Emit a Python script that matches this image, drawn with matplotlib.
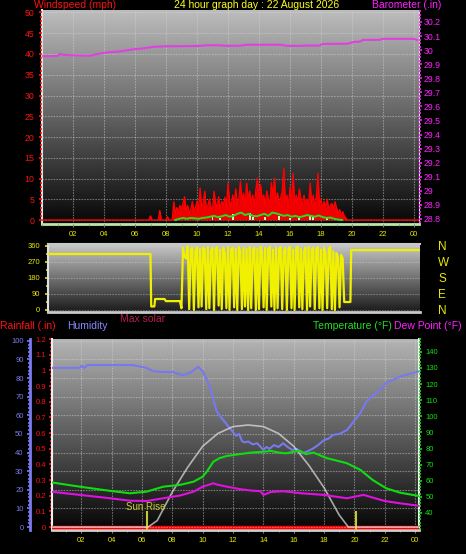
import numpy as np
import matplotlib.pyplot as plt
from matplotlib.colors import LinearSegmentedColormap
from matplotlib.ticker import MultipleLocator

plt.rcParams['font.family'] = ['Liberation Sans', 'DejaVu Sans']

# ---------------- data ----------------
title = "24 hour graph day : 22 August 2026"
hour_ticks = list(range(2, 25, 2))
hour_labels = ["%02d" % (h % 24) for h in hour_ticks]

# barometer (inHg)
baro_hours = [0.0, 1.0, 1.15, 1.4, 2.1, 3.1, 3.5, 4.2, 5.0, 5.9, 6.5, 7.2, 8.0, 9.3, 10.2,
              10.6, 11.5, 11.9, 12.8, 13.2, 15.4, 15.8, 16.6, 17.1, 17.9, 18.1, 19.7, 20.1,
              20.5, 20.7, 21.8, 22.0, 24.0, 24.2]
baro_vals = [29.957, 29.958, 29.972, 29.966, 29.962, 29.960, 29.970, 29.984, 29.990, 30.006,
             30.012, 30.023, 30.027, 30.028, 30.030, 30.034, 30.034, 30.030, 30.031, 30.038,
             30.038, 30.030, 30.030, 30.032, 30.032, 30.044, 30.045, 30.058, 30.060, 30.072,
             30.073, 30.080, 30.080, 30.072]

# wind gust (mph), every 6 minutes from 06:54 to 19:42
wind_start, wind_step = 6.9, 0.1
wind_vals = [0, 1.0, 0, 0, 0, 0, 0, 2.3, 0, 0,
             0, 0, 0.8, 0, 0, 0, 4.4, 1.5, 3.0, 2.0,
             3.5, 2.5, 4.0, 5.6, 2.0, 3.5, 1.5, 2.5, 4.5, 2.0,
             3.0, 4.5, 2.5, 7.7, 3.0, 4.0, 6.9, 2.5, 3.5, 5.0,
             3.0, 2.5, 6.9, 4.0, 3.0, 5.6, 2.5, 4.5, 3.5, 5.5,
             3.0, 8.9, 4.5, 3.0, 6.0, 4.0, 7.5, 3.5, 5.0, 9.3,
             4.5, 6.5, 3.5, 8.9, 5.0, 7.0, 4.0, 6.0, 3.5, 7.5,
             10.1, 4.5, 8.5, 5.0, 6.0, 3.5, 7.0, 5.0, 4.0, 9.0,
             5.5, 10.1, 4.0, 6.5, 3.5, 5.5, 7.0, 12.5, 4.0, 6.0,
             3.0, 8.0, 4.5, 11.3, 3.5, 6.0, 4.0, 7.5, 5.0, 3.5,
             6.0, 4.0, 5.0, 3.5, 8.9, 4.0, 6.0, 3.0, 5.5, 11.3,
             3.5, 5.0, 2.5, 4.5, 3.0, 5.0, 2.5, 3.5, 4.0, 2.5,
             4.4, 3.0, 1.5, 2.5, 1.0, 2.0, 1.0, 0.5, 0]

# average wind (mph), every 15 minutes from 08:36
avg_start, avg_step = 8.6, 0.25
avg_vals = [0, 0.3, 0.5, 0.3, 0.5, 0.4, 0.3, 0.5, 0.6, 0.8,
            1.0, 0.7, 0.9, 1.2, 0.8, 1.0, 1.5, 1.8, 1.2, 1.5,
            1.0, 0.9, 1.2, 1.5, 1.0, 1.8, 1.6, 1.3, 1.0, 1.2,
            0.8, 1.0, 0.7, 0.9, 1.2, 1.0, 0.8, 1.1, 0.7, 0.5,
            0.6, 0.3, 0.1, 0]

# light bars (wind speed samples)
light_hours = [11.0, 11.5, 12.3, 13.4, 13.6, 14.4, 15.3, 16.0, 16.6, 17.3, 17.5, 18.4]
light_vals = [0.8, 0.6, 1.4, 1.6, 0.8, 0.8, 1.0, 0.6, 0.6, 0.9, 0.7, 0.8]

# wind direction (degrees)
dir_hours_a = [0.0, 7.0, 7.05, 7.25, 7.3, 7.9, 8.0, 8.9]
dir_vals_a = [315, 315, 20, 20, 62, 62, 50, 50]
dir_start, dir_step = 9.0, 0.1
dir_vals_b = [10, 350, 300, 290, 360, 5, 340, 350, 0, 330,
              355, 15, 345, 20, 350, 340, 5, 355, 10, 330,
              350, 0, 345, 355, 25, 340, 5, 350, 320, 10,
              355, 0, 340, 350, 15, 345, 0, 355, 330, 5,
              350, 20, 345, 0, 355, 10, 340, 350, 0, 345,
              5, 355, 330, 15, 350, 0, 345, 355, 20, 340,
              0, 350, 10, 345, 355, 5, 330, 350, 0, 345,
              355, 10, 340, 0, 350, 355, 15, 345, 5, 330,
              350, 0, 355, 20, 340, 350, 5, 345, 355, 10,
              340, 0, 350, 320, 10, 345, 355, 5, 330, 0,
              320, 300, 15, 310, 290, 45]
dir_hours_c = [19.9, 19.95, 24.4]
dir_vals_c = [45, 337, 337]
compass_deg = [0, 90, 180, 270, 360]
compass_lbl = ["N", "E", "S", "W", "N"]

# humidity (%)
hum_hours = [0.0, 1.9, 2.0, 2.2, 2.4, 5.4, 6.3, 6.7, 7.2, 8.0, 8.7, 9.2, 9.7, 10.0, 10.5,
             10.9, 11.3, 11.6, 12.0, 12.2, 12.4, 12.6, 12.8, 13.0, 13.3, 13.6, 14.0, 14.2,
             14.4, 14.7, 15.0, 15.3, 15.6, 15.9, 16.2, 16.6, 17.0, 17.3, 17.6, 18.0, 18.3,
             18.6, 19.0, 19.5, 19.7, 20.2, 20.4, 20.8, 21.9, 22.1, 23.0, 24.2]
hum_vals = [85.5, 85.5, 86.5, 85.5, 87, 87, 85.5, 83.8, 83.3, 83.3, 81.5, 83, 86, 83.7, 75,
            62.5, 58, 55, 51, 49, 50, 46, 45.5, 46, 44.4, 45, 41.4, 43,
            42, 44, 43, 45, 43, 41.4, 42, 39.6, 41, 42.3, 44, 46.7, 47.5,
            49.5, 50, 52, 54, 59.3, 61.3, 67.4, 75.4, 77.4, 80.8, 83.5]

# temperature / dew point (F)
temp_hours = [0.0, 1.9, 3.9, 5.2, 6.3, 7.4, 8.5, 9.4, 10.0, 10.3, 10.7, 11.1, 11.6, 12.5,
              13.2, 14.0, 14.5, 15.0, 15.5, 16.0, 16.4, 16.8, 17.3, 17.8, 18.2, 19.5, 20.4,
              21.2, 22.1, 23.0, 24.2]
temp_vals = [59, 56.3, 53.7, 52.2, 53.2, 56.3, 57.4, 59.4, 62.5, 66, 71.8, 74, 75.4, 76.6,
             77.5, 78, 78.5, 77.5, 77, 78, 78.7, 76.5, 77.5, 75.5, 74, 70.9, 66.7,
             60.5, 55.3, 52.6, 50.6]
dew_hours = [0.0, 1.9, 3.9, 5.2, 6.3, 7.4, 8.5, 9.4, 10.0, 10.7, 11.0, 11.6, 12.5, 13.3,
             13.8, 14.0, 14.5, 15.3, 16.5, 18.0, 19.5, 20.6, 22.0, 23.0, 24.2]
dew_vals = [53.2, 51.2, 49.1, 47.6, 47.4, 49.1, 50.8, 53.2, 56.3, 58.4, 57.5, 56.3, 54.7,
            53.8, 53.5, 51.2, 53.0, 53.5, 52.2, 51.2, 49.1, 51.2, 47.4, 46, 44.5]

# max solar (W/m2) and rainfall (in)
solar_hours = [0.0, 6.4, 7, 8, 9, 10, 11, 12, 13, 14, 15, 16, 17, 18, 19, 19.6, 24.3]
solar_vals = [0, 0, 60, 330, 560, 760, 880, 945, 960, 945, 880, 760, 580, 370, 113, 0, 0]
rain_hours = [0.0, 24.3]
rain_vals = [0.0, 0.0]
sun_times = [6.3, 20.1]

# ---------------- figure ----------------
W, H = 466, 554
fig = plt.figure(figsize=(W / 100, H / 100), dpi=100, facecolor='black')

YEL = '#e8e800'
RED = '#ff1010'
MAG = '#ff20ff'
GRN = '#10e010'
BLU = '#7b7bf0'


def box(x0, y0, x1, y1):
    return [x0 / W, 1 - y1 / H, (x1 - x0) / W, (y1 - y0) / H]


def shade(ax, top, bottom):
    cmap = LinearSegmentedColormap.from_list('bg', [bottom, top])
    ax.imshow(np.linspace(0, 1, 256).reshape(-1, 1), cmap=cmap, aspect='auto',
              extent=[0, 1, 0, 1], transform=ax.transAxes, origin='lower', zorder=0)


def ftext(x, y, s, color, size=7.5, ha='left'):
    fig.text(x / W, 1 - y / H, s, color=color, fontsize=size, ha=ha, va='center')


def yaxis_style(axis, color, major, minor, size, pad=2):
    axis.set_major_locator(MultipleLocator(major))
    axis.set_minor_locator(MultipleLocator(minor))
    axis.set_tick_params(which='major', colors=color, labelsize=size, length=2.5,
                         width=1.2, pad=pad)
    axis.set_tick_params(which='minor', colors=color, length=1.5, width=1.2)


# ---- top panel: wind + barometer ----
ax1 = fig.add_axes(box(42, 10, 419, 224))
ax1.set_facecolor('black')
shade(ax1, '#bdbdbd', '#060606')
t_wind = np.concatenate([[0.0], wind_start + wind_step * np.arange(len(wind_vals)), [24.3]])
w_wind = np.concatenate([[0.0], wind_vals, [0.0]])
ax1.fill_between(t_wind, 0, w_wind, color='#f00000', lw=0, zorder=3)
ax1.plot(t_wind, w_wind, color='#ff0000', lw=1.0, zorder=3)
ax1.bar(light_hours, light_vals, width=0.12, color='#d8ecd0', zorder=4)
t_avg = avg_start + avg_step * np.arange(len(avg_vals))
ax1.plot(t_avg, avg_vals, color='#20e020', lw=1.4, zorder=5)
ax1.set_xlim(0, 24.32)
ax1.set_ylim(-0.96, 50.6)
ax1.set_xticks(hour_ticks)
ax1.set_xticklabels(hour_labels)
ax1.xaxis.set_minor_locator(MultipleLocator(1))
ax1.tick_params(axis='x', which='major', colors='#808080', labelcolor=YEL, labelsize=5.5,
                length=2.5, pad=2.5)
ax1.tick_params(axis='x', which='minor', colors='#808080', length=1.5)
yaxis_style(ax1.yaxis, RED, 5, 1, 6.3, pad=3)
ax1.grid(True, which='major', color='#d8d8d8', alpha=0.45, lw=0.8, ls=(0, (1.5, 1)))
ax1.set_axisbelow(False)
ax1.spines['top'].set_visible(False)
ax1.spines['left'].set_color('#e0e0e0')
ax1.spines['left'].set_linewidth(1.5)
ax1.spines['right'].set_color('#e0e0e0')
ax1.spines['bottom'].set_color('#b8e8a8')
ax1.spines['bottom'].set_linewidth(2)

ax1b = ax1.twinx()
ax1b.plot(baro_hours, baro_vals, color='#e040e0', lw=1.5)
ax1b.set_ylim(28.764, 30.285)
baro_ticks = np.round(np.arange(28.8, 30.21, 0.1), 1)
ax1b.set_yticks(baro_ticks)
ax1b.set_yticklabels(['%g' % v for v in baro_ticks])
ax1b.yaxis.set_minor_locator(MultipleLocator(0.025))
ax1b.tick_params(axis='y', which='major', colors=MAG, labelsize=6.3, length=2.5, width=1.2,
                 pad=1)
ax1b.tick_params(axis='y', which='minor', colors=MAG, length=1.5, width=1.2)
for s in ax1b.spines.values():
    s.set_visible(False)

# ---- wind direction panel ----
ax2 = fig.add_axes(box(48, 244, 420, 312))
shade(ax2, '#c8c8c8', '#1a1a1a')
t_dir = np.concatenate([dir_hours_a, dir_start + dir_step * np.arange(len(dir_vals_b)),
                        dir_hours_c])
v_dir = np.concatenate([dir_vals_a, dir_vals_b, dir_vals_c])
ax2.plot(t_dir, v_dir, color='#f0f000', lw=1.6, zorder=3)
ax2.set_xlim(0.39, 24.39)
ax2.set_ylim(-11.25, 371.25)
ax2.set_xticks([])
ax2.set_yticks(compass_deg)
ax2.yaxis.set_minor_locator(MultipleLocator(45))
ax2.tick_params(axis='y', which='major', colors=YEL, labelsize=5.5, length=2.5, width=1.2,
                pad=3)
ax2.tick_params(axis='y', which='minor', colors=YEL, length=1.5, width=1.2)
ax2.grid(True, axis='y', color='#e0e0e0', alpha=0.35, lw=0.8, ls=(0, (1.5, 1)))
ax2.spines['left'].set_color('#e0e0e0')
ax2.spines['left'].set_linewidth(1.5)
ax2.spines['right'].set_visible(False)
ax2.spines['top'].set_color('#c8c8c8')
ax2.spines['top'].set_linewidth(1.5)
ax2.spines['bottom'].set_color('#c8c8c8')
ax2.spines['bottom'].set_linewidth(2)
ax2b = ax2.twinx()
ax2b.set_ylim(ax2.get_ylim())
ax2b.set_yticks(compass_deg)
ax2b.set_yticklabels(compass_lbl)
ax2b.tick_params(axis='y', colors=YEL, labelsize=8.5, length=0, pad=13)
for s in ax2b.spines.values():
    s.set_visible(False)

# ---- bottom panel: rain, humidity, solar, temperature ----
ax3 = fig.add_axes(box(52, 339, 419, 530))
shade(ax3, '#b4b4b4', '#050505')
ax3.set_xlim(0.066, 24.26)
ax3.set_ylim(-0.019, 1.2)
ax3.set_xticks(hour_ticks)
ax3.set_xticklabels(hour_labels)
ax3.xaxis.set_minor_locator(MultipleLocator(1))
ax3.tick_params(axis='x', which='major', colors='#808080', labelcolor=YEL, labelsize=5.5,
                length=2.5, pad=2.5)
ax3.tick_params(axis='x', which='minor', colors='#808080', length=1.5)
rain_ticks = np.round(np.arange(0, 1.21, 0.1), 1)
ax3.set_yticks(rain_ticks)
ax3.set_yticklabels(['%g' % v for v in rain_ticks])
ax3.yaxis.set_minor_locator(MultipleLocator(0.025))
ax3.tick_params(axis='y', which='major', colors=RED, labelsize=5.5, length=2.5, width=1.2,
                pad=2)
ax3.tick_params(axis='y', which='minor', colors=RED, length=1.5, width=1.2)
ax3.grid(True, axis='x', color='#d8d8d8', alpha=0.45, lw=0.8, ls=(0, (1.5, 1)))
ax3.spines['top'].set_visible(False)
ax3.spines['left'].set_color('#f0f0f0')
ax3.spines['left'].set_linewidth(1.5)
ax3.spines['right'].set_color('#f0f0f0')
ax3.spines['right'].set_linewidth(1.5)
ax3.spines['bottom'].set_color('#d0d0d0')
ax3.spines['bottom'].set_linewidth(2)
ax3.plot(rain_hours, rain_vals, color='#ff0000', lw=2.5, zorder=3)
ax3.vlines(sun_times, ax3.get_ylim()[0], 0.1, color='#c8c832', lw=1.5, zorder=4)

axh = ax3.twinx()
axh.set_ylim(-1.6, 101)
axh.yaxis.tick_left()
axh.spines['left'].set_position(('outward', 16))
axh.spines['left'].set_visible(True)
axh.spines['left'].set_color(BLU)
axh.spines['left'].set_linewidth(2)
for s in ['right', 'top', 'bottom']:
    axh.spines[s].set_visible(False)
yaxis_style(axh.yaxis, BLU, 10, 2, 5.5, pad=2)
axh.set_yticks(range(0, 101, 10))
axh.grid(True, axis='y', color='#d8d8d8', alpha=0.45, lw=0.8, ls=(0, (1.5, 1)))
axh.plot(hum_hours, hum_vals, color='#7878f0', lw=1.5, zorder=3)

axs = ax3.twinx()
axs.set_ylim(-28, 1769)
axs.axis('off')
axs.plot(solar_hours, solar_vals, color='#e4e4e4', lw=1.2, alpha=0.7)

axt = ax3.twinx()
axt.set_ylim(29.4, 148)
yaxis_style(axt.yaxis, GRN, 10, 2, 5.5, pad=2)
axt.set_yticks(range(40, 141, 10))
for s in axt.spines.values():
    s.set_visible(False)
axt.plot(temp_hours, temp_vals, color='#10dd10', lw=1.5)
axt.plot(dew_hours, dew_vals, color='#e010e0', lw=1.5)

# ---- texts ----
ftext(34, 5, "Windspeed (mph)", RED)
ftext(257, 5, title, '#ffff20', ha='center')
ftext(372, 5, "Barometer (.in)", MAG)
ftext(0, 326, "Rainfall (.in)", RED)
ftext(67, 326, "Humidity", '#8888ff')
ftext(120, 319, "Max solar", '#b41e46')
ftext(313, 326, "Temperature (\u00b0F)", '#20e020')
ftext(394, 326, "Dew Point (\u00b0F)", MAG)
ftext(126, 507, "Sun Rise", '#c8c832', size=7)

fig.savefig('out.png', dpi=100, facecolor='black')
